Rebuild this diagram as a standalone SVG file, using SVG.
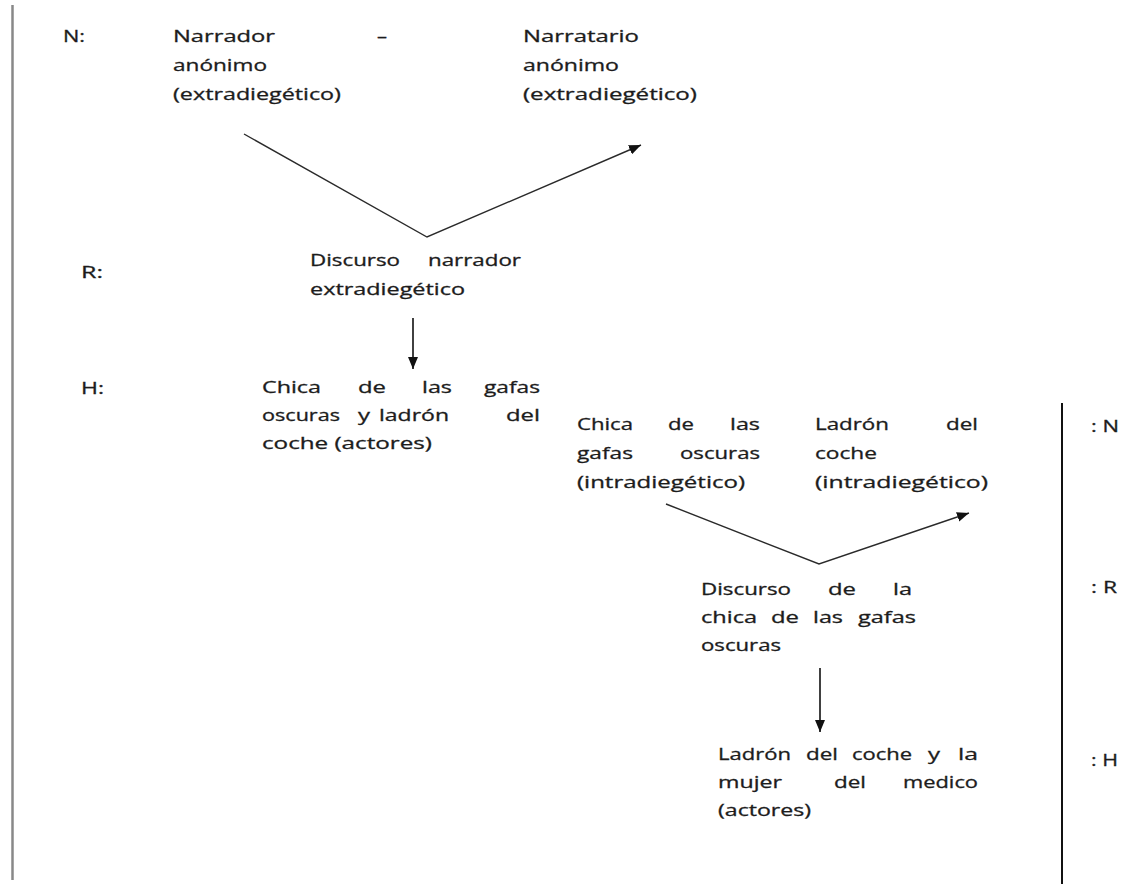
<svg xmlns="http://www.w3.org/2000/svg" width="1132" height="884" viewBox="0 0 1132 884">
<style>
text{font-family:"Open Sans","Liberation Sans",sans-serif;font-size:16.5px;font-weight:500;fill:#1c1c1c;stroke:#1c1c1c;stroke-width:0.3}
.conn{fill:none;stroke:#2a2a2a;stroke-width:1.4}
.down{fill:none;stroke:#111;stroke-width:1.6}
</style>
<defs>
<marker id="ah" viewBox="0 0 12 10" refX="12" refY="5" markerWidth="12" markerHeight="10" markerUnits="userSpaceOnUse" orient="auto">
<path d="M0,0 L12,5 L0,10 z" fill="#111"/>
</marker>
</defs>
<rect width="1132" height="884" fill="#fff"/>
<g id="frame">
<line x1="12.5" y1="5" x2="12.5" y2="880" stroke="#888" stroke-width="2.5"/>
<line x1="1062" y1="403" x2="1062" y2="884" stroke="#111" stroke-width="2"/>
</g>
<g id="levels-left">
<text x="63" y="42" textLength="22" lengthAdjust="spacingAndGlyphs">N:</text>
<text x="81" y="278" textLength="22" lengthAdjust="spacingAndGlyphs">R:</text>
<text x="81" y="394" textLength="23" lengthAdjust="spacingAndGlyphs">H:</text>
</g>
<g id="levels-right">
<text x="1091" y="432" textLength="28" lengthAdjust="spacingAndGlyphs">: N</text>
<text x="1091" y="593" textLength="26" lengthAdjust="spacingAndGlyphs">: R</text>
<text x="1091" y="766" textLength="27" lengthAdjust="spacingAndGlyphs">: H</text>
</g>
<g id="narrador">
<text x="173" y="42" textLength="102" lengthAdjust="spacingAndGlyphs">Narrador</text>
<text x="377" y="42" textLength="10" lengthAdjust="spacingAndGlyphs">–</text>
<text x="173" y="71" textLength="94" lengthAdjust="spacingAndGlyphs">anónimo</text>
<text x="173" y="100" textLength="168" lengthAdjust="spacingAndGlyphs">(extradiegético)</text>
</g>
<g id="narratario">
<text x="523" y="42" textLength="116" lengthAdjust="spacingAndGlyphs">Narratario</text>
<text x="523" y="71" textLength="96" lengthAdjust="spacingAndGlyphs">anónimo</text>
<text x="523" y="100" textLength="174" lengthAdjust="spacingAndGlyphs">(extradiegético)</text>
</g>
<g id="discurso-narrador">
<text x="310" y="266" textLength="90" lengthAdjust="spacingAndGlyphs">Discurso</text>
<text x="428" y="266" textLength="93" lengthAdjust="spacingAndGlyphs">narrador</text>
<text x="310" y="295" textLength="155" lengthAdjust="spacingAndGlyphs">extradiegético</text>
</g>
<g id="actores-1">
<text x="262" y="393" textLength="59" lengthAdjust="spacingAndGlyphs">Chica</text>
<text x="358" y="393" textLength="28" lengthAdjust="spacingAndGlyphs">de</text>
<text x="422" y="393" textLength="30" lengthAdjust="spacingAndGlyphs">las</text>
<text x="484" y="393" textLength="56" lengthAdjust="spacingAndGlyphs">gafas</text>
<text x="262" y="421" textLength="78" lengthAdjust="spacingAndGlyphs">oscuras</text>
<text x="358" y="421" textLength="12" lengthAdjust="spacingAndGlyphs">y</text>
<text x="379" y="421" textLength="70" lengthAdjust="spacingAndGlyphs">ladrón</text>
<text x="506" y="421" textLength="34" lengthAdjust="spacingAndGlyphs">del</text>
<text x="262" y="449" textLength="170" lengthAdjust="spacingAndGlyphs">coche (actores)</text>
</g>
<g id="chica-intra">
<text x="577" y="430" textLength="56" lengthAdjust="spacingAndGlyphs">Chica</text>
<text x="668" y="430" textLength="26" lengthAdjust="spacingAndGlyphs">de</text>
<text x="730" y="430" textLength="30" lengthAdjust="spacingAndGlyphs">las</text>
<text x="577" y="459" textLength="56" lengthAdjust="spacingAndGlyphs">gafas</text>
<text x="680" y="459" textLength="80" lengthAdjust="spacingAndGlyphs">oscuras</text>
<text x="577" y="488" textLength="168" lengthAdjust="spacingAndGlyphs">(intradiegético)</text>
</g>
<g id="ladron-intra">
<text x="815" y="430" textLength="74" lengthAdjust="spacingAndGlyphs">Ladrón</text>
<text x="946" y="430" textLength="32" lengthAdjust="spacingAndGlyphs">del</text>
<text x="815" y="459" textLength="62" lengthAdjust="spacingAndGlyphs">coche</text>
<text x="815" y="488" textLength="173" lengthAdjust="spacingAndGlyphs">(intradiegético)</text>
</g>
<g id="discurso-chica">
<text x="701" y="595" textLength="90" lengthAdjust="spacingAndGlyphs">Discurso</text>
<text x="828" y="595" textLength="28" lengthAdjust="spacingAndGlyphs">de</text>
<text x="893" y="595" textLength="19" lengthAdjust="spacingAndGlyphs">la</text>
<text x="701" y="623" textLength="56" lengthAdjust="spacingAndGlyphs">chica</text>
<text x="771" y="623" textLength="28" lengthAdjust="spacingAndGlyphs">de</text>
<text x="813" y="623" textLength="30" lengthAdjust="spacingAndGlyphs">las</text>
<text x="858" y="623" textLength="58" lengthAdjust="spacingAndGlyphs">gafas</text>
<text x="701" y="651" textLength="80" lengthAdjust="spacingAndGlyphs">oscuras</text>
</g>
<g id="actores-2">
<text x="718" y="760" textLength="73" lengthAdjust="spacingAndGlyphs">Ladrón</text>
<text x="806" y="760" textLength="32" lengthAdjust="spacingAndGlyphs">del</text>
<text x="852" y="760" textLength="60" lengthAdjust="spacingAndGlyphs">coche</text>
<text x="928" y="760" textLength="12" lengthAdjust="spacingAndGlyphs">y</text>
<text x="958" y="760" textLength="20" lengthAdjust="spacingAndGlyphs">la</text>
<text x="718" y="788" textLength="64" lengthAdjust="spacingAndGlyphs">mujer</text>
<text x="834" y="788" textLength="32" lengthAdjust="spacingAndGlyphs">del</text>
<text x="903" y="788" textLength="75" lengthAdjust="spacingAndGlyphs">medico</text>
<text x="718" y="816" textLength="93" lengthAdjust="spacingAndGlyphs">(actores)</text>
</g>
<g id="connectors">
<path class="conn" d="M244,134 L427,237 L641,145" marker-end="url(#ah)"/>
<line class="down" x1="413" y1="318" x2="413" y2="369" marker-end="url(#ah)"/>
<path class="conn" d="M666,504 L819,564 L969,513" marker-end="url(#ah)"/>
<line class="down" x1="820" y1="668" x2="820" y2="732" marker-end="url(#ah)"/>
</g>
</svg>
